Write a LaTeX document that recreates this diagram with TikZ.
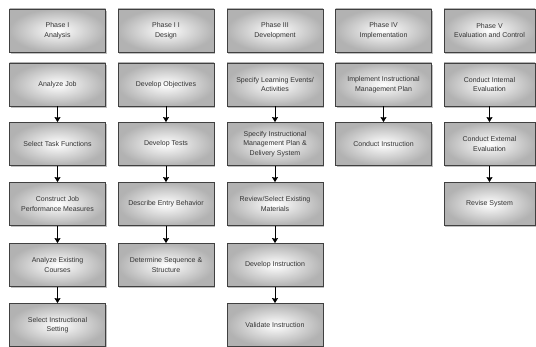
\documentclass[tikz,border=0pt]{standalone}
\usepackage{fontspec}
\setmainfont{Liberation Sans}
\usetikzlibrary{shadows, arrows.meta}
\begin{document}
\begin{tikzpicture}[x=1pt, y=1pt, >={Stealth[length=5pt, width=6pt, inset=0.6pt]},
  every node/.style={font=\fontsize{7}{9.5}\selectfont, text=black!80},
  box/.style={draw=black!75, line width=0.8pt, inner color=white, outer color=gray!60,
    minimum width=96pt, minimum height=43pt, align=center, inner sep=1pt,
    drop shadow={shadow xshift=1.2pt, shadow yshift=-1.6pt, opacity=0.5}}]
  \useasboundingbox (0,0) rectangle (536,-347);
  % phases
  \node[box] (c1-1) at (57.5,-30.5) {Phase I\\Analysis};
  \node[box] (c2-1) at (166,-30.5) {Phase I I\\Design};
  \node[box] (c3-1) at (275,-30.5) {Phase III\\Development};
  \node[box] (c4-1) at (383.5,-30.5) {Phase IV\\Implementation};
  \node[box, minimum width=91pt] (c5-1) at (489.5,-30.5) {Phase V\\Evaluation and Control};
  % column 1
  \node[box] (c1-2) at (57.5,-84.5) {Analyze Job};
  \node[box] (c1-3) at (57.5,-144) {Select Task Functions};
  \node[box] (c1-4) at (57.5,-204) {Construct Job\\Performance Measures};
  \node[box] (c1-5) at (57.5,-265) {Analyze Existing\\Courses};
  \node[box] (c1-6) at (57.5,-325) {Select Instructional\\Setting};
  % column 2
  \node[box] (c2-2) at (166,-84.5) {Develop Objectives};
  \node[box] (c2-3) at (166,-144) {Develop Tests};
  \node[box] (c2-4) at (166,-204) {Describe Entry Behavior};
  \node[box] (c2-5) at (166,-265) {Determine Sequence \&\\Structure};
  % column 3
  \node[box] (c3-2) at (275,-84.5) {Specify Learning Events/\\Activities};
  \node[box] (c3-3) at (275,-144) {Specify Instructional\\Management Plan \&\\Delivery System};
  \node[box] (c3-4) at (275,-204) {Review/Select Existing\\Materials};
  \node[box] (c3-5) at (275,-265) {Develop Instruction};
  \node[box] (c3-6) at (275,-325) {Validate Instruction};
  % column 4
  \node[box] (c4-2) at (383.5,-84.5) {Implement Instructional\\Management Plan};
  \node[box] (c4-3) at (383.5,-144) {Conduct Instruction};
  % column 5
  \node[box, minimum width=91pt] (c5-2) at (489.5,-84.5) {Conduct Internal\\Evaluation};
  \node[box, minimum width=91pt] (c5-3) at (489.5,-144) {Conduct External\\Evaluation};
  \node[box, minimum width=91pt] (c5-4) at (489.5,-204) {Revise System};
  % arrows
  \foreach \a/\b in {c1-2/c1-3, c1-3/c1-4, c1-4/c1-5, c1-5/c1-6,
                     c2-2/c2-3, c2-3/c2-4, c2-4/c2-5,
                     c3-2/c3-3, c3-3/c3-4, c3-4/c3-5, c3-5/c3-6,
                     c4-2/c4-3,
                     c5-2/c5-3, c5-3/c5-4}
    \draw[->, line width=0.8pt] (\a.south) -- (\b.north);
\end{tikzpicture}
\end{document}
